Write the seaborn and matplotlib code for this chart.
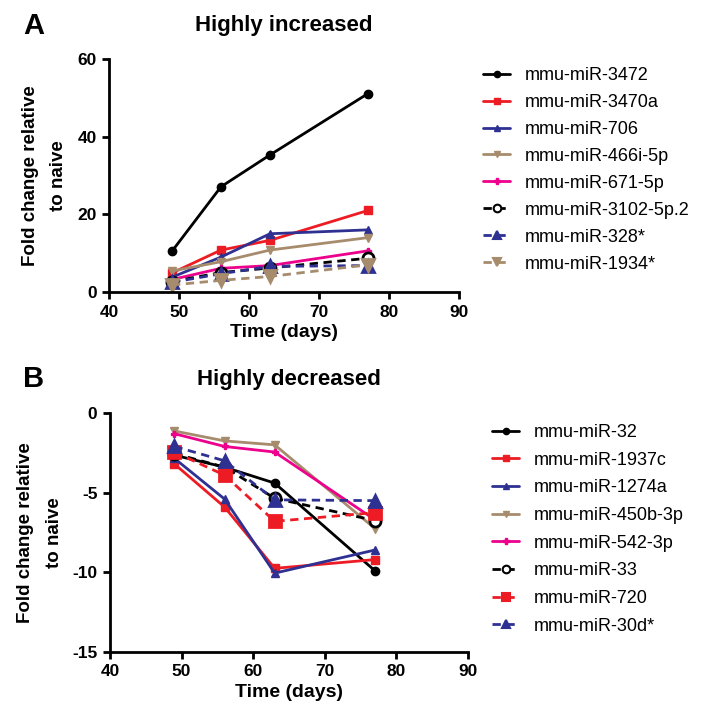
import numpy as np
import pandas as pd
import matplotlib
matplotlib.use("Agg")
import matplotlib.pyplot as plt
import seaborn as sns

# ── data ─────────────────────────────────────────────────────────────────────
days = [49, 56, 63, 77]

inc_names = ["mmu-miR-3472", "mmu-miR-3470a", "mmu-miR-706", "mmu-miR-466i-5p",
             "mmu-miR-671-5p", "mmu-miR-3102-5p.2", "mmu-miR-328*", "mmu-miR-1934*"]
inc_vals = [
    [10.5, 27.1, 35.3, 51.1],
    [4.9, 10.8, 13.3, 21.0],
    [3.8, 9.0, 15.0, 16.0],
    [5.4, 7.8, 10.8, 14.0],
    [3.2, 6.1, 6.8, 10.6],
    [2.7, 5.0, 6.2, 8.7],
    [2.5, 4.7, 6.6, 6.8],
    [1.8, 3.0, 4.0, 7.0],
]

dec_names = ["mmu-miR-32", "mmu-miR-1937c", "mmu-miR-1274a", "mmu-miR-450b-3p",
             "mmu-miR-542-3p", "mmu-miR-33", "mmu-miR-720", "mmu-miR-30d*"]
dec_vals = [
    [-2.65, -3.4, -4.4, -9.9],
    [-3.2, -5.9, -9.75, -9.2],
    [-2.85, -5.4, -10.05, -8.6],
    [-1.13, -1.75, -2.0, -7.25],
    [-1.3, -2.1, -2.45, -6.7],
    [-2.55, -3.4, -5.35, -6.75],
    [-2.45, -3.9, -6.8, -6.25],
    [-2.1, -3.0, -5.45, -5.5],
]

# ── styles (GraphPad-like) ───────────────────────────────────────────────────
BLACK, RED, BLUE, TAN, PINK = "#000000", "#ED1C24", "#2E3192", "#A68C6D", "#EC008C"
STYLES = [
    dict(color=BLACK, marker="o", ls="-", ms=6, mfc=BLACK),
    dict(color=RED, marker="s", ls="-", ms=6, mfc=RED),
    dict(color=BLUE, marker="^", ls="-", ms=6, mfc=BLUE),
    dict(color=TAN, marker="v", ls="-", ms=6, mfc=TAN),
    dict(color=PINK, marker="P", ls="-", ms=5, mfc=PINK),
    dict(color=BLACK, marker="o", ls="--", ms=8, mfc="white"),
]

sns.set_theme(style="ticks")
plt.rcParams["font.family"] = ["Liberation Sans", "DejaVu Sans"]
plt.rcParams["font.weight"] = "bold"
plt.rcParams["axes.unicode_minus"] = False
for k in ["text.color", "axes.labelcolor", "xtick.color", "ytick.color"]:
    plt.rcParams[k] = "black"

fig = plt.figure(figsize=(7.09, 7.18), dpi=100)
W, H = 709, 718


def px_axes(l, t, r, b):
    return fig.add_axes([l / W, 1 - b / H, (r - l) / W, (b - t) / H])


def draw_panel(ax, names, vals, dashed_extra, ylim, yticks, title):
    df = pd.DataFrame({
        "day": np.tile(days, len(names)),
        "value": np.concatenate(vals),
        "name": np.repeat(names, len(days)),
    })
    styles = STYLES + dashed_extra
    for name, st in zip(names, styles):
        sub = df[df["name"] == name]
        dashed = st["ls"] == "--"
        sns.lineplot(data=sub, x="day", y="value", ax=ax, color=st["color"],
                     marker=st["marker"], markersize=st["ms"],
                     markerfacecolor=st["mfc"], markeredgecolor=st["color"],
                     markeredgewidth=2 if dashed else 1,
                     linewidth=2, dashes=False, label=name, legend=False)
        if dashed:
            ax.lines[-1].set_dashes((3, 2))
            ax.lines[-1].set_gid("dashed")
    ax.set_xlim(40, 90)
    ax.set_ylim(*ylim)
    ax.set_xticks([40, 50, 60, 70, 80, 90])
    ax.set_yticks(yticks)
    sns.despine(ax=ax)
    for s in ["left", "bottom"]:
        ax.spines[s].set_linewidth(2)
        ax.spines[s].set_color("black")
    ax.tick_params(width=2, length=5, labelsize=12.5, pad=4)
    for lab in ax.get_xticklabels() + ax.get_yticklabels():
        lab.set_fontweight("bold")
    ax.set_xlabel("Time (days)", fontsize=14, fontweight="bold", labelpad=3)
    ax.set_ylabel("Fold change relative\nto naive", fontsize=13.5,
                  fontweight="bold", labelpad=7, linespacing=1.9)
    ax.set_title(title, fontsize=16, fontweight="bold", pad=20)
    ax.grid(False)


def add_legend(ax, x, y, spacing):
    leg = ax.legend(loc="upper left", bbox_to_anchor=(x / W, 1 - y / H),
                    bbox_transform=fig.transFigure, frameon=False,
                    prop=dict(size=13, weight="normal"), handlelength=1.5,
                    handletextpad=0.8, labelspacing=spacing, borderaxespad=0,
                    borderpad=0)
    for h, src in zip(leg.legend_handles, ax.lines):
        if src.get_gid() == "dashed":
            h.set_markersize(5.5)
            h.set_markeredgewidth(1.5)
        else:
            h.set_markersize(4.5)
    return leg


axA = px_axes(109, 59, 459, 292)
draw_panel(axA, inc_names, inc_vals,
           [dict(color=BLUE, marker="^", ls="--", ms=8, mfc=BLUE),
            dict(color=TAN, marker="v", ls="--", ms=8, mfc=TAN)],
           (0, 60), [0, 20, 40, 60], "Highly increased")
add_legend(axA, 483, 67, 0.55)

axB = px_axes(110, 413, 468, 652)
draw_panel(axB, dec_names, dec_vals,
           [dict(color=RED, marker="s", ls="--", ms=8, mfc=RED),
            dict(color=BLUE, marker="^", ls="--", ms=8, mfc=BLUE)],
           (-15, 0), [-15, -10, -5, 0], "Highly decreased")
add_legend(axB, 492, 424, 0.59)

fig.text(23 / W, 1 - 25.5 / H, "A", fontsize=21, fontweight="bold", va="center")
fig.text(23 / W, 1 - 379 / H, "B", fontsize=21, fontweight="bold", va="center")

fig.savefig("out.png", dpi=100)
